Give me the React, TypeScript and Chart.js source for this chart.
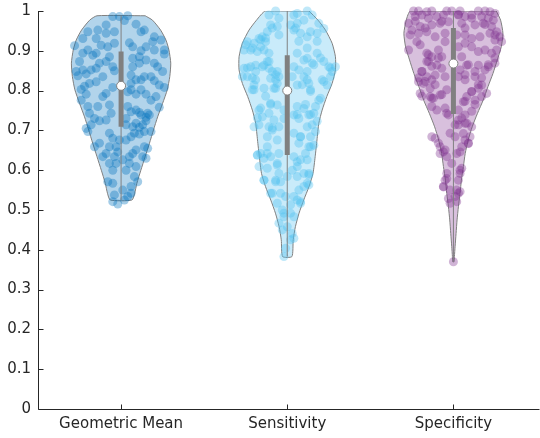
import React, { useEffect, useRef } from "react";
import { Chart, registerables } from "chart.js";

Chart.register(...registerables);

const categories = ["Geometric Mean", "Sensitivity", "Specificity"];
const yTickValues = [0, 0.1, 0.2, 0.3, 0.4, 0.5, 0.6, 0.7, 0.8, 0.9, 1];
const seriesColors = [
  [0, 114, 189],
  [77, 190, 238],
  [126, 47, 142],
];

// Violin outlines: value levels (top -> bottom) and half-widths (in category units)
const gmProfileY = [0.988, 0.977, 0.952, 0.927, 0.902, 0.869, 0.835, 0.802, 0.768, 0.734, 0.701, 0.668, 0.634, 0.6, 0.567, 0.542, 0.525];
const gmProfileHW = [0.145, 0.189, 0.238, 0.27, 0.288, 0.299, 0.293, 0.278, 0.25, 0.22, 0.195, 0.171, 0.145, 0.119, 0.095, 0.082, 0.065];
const seProfileY = [1.0, 0.977, 0.952, 0.919, 0.885, 0.852, 0.818, 0.785, 0.751, 0.718, 0.676, 0.634, 0.592, 0.559, 0.525, 0.492, 0.458, 0.425, 0.383];
const seProfileHW = [0.131, 0.185, 0.23, 0.27, 0.29, 0.29, 0.27, 0.238, 0.21, 0.19, 0.179, 0.168, 0.155, 0.131, 0.099, 0.071, 0.049, 0.036, 0.028];
const spProfileY = [1.0, 0.977, 0.944, 0.91, 0.877, 0.843, 0.81, 0.776, 0.743, 0.709, 0.676, 0.642, 0.609, 0.575, 0.542, 0.508, 0.475, 0.441, 0.408, 0.383, 0.37];
const spProfileHW = [0.258, 0.284, 0.298, 0.288, 0.264, 0.238, 0.208, 0.179, 0.145, 0.113, 0.089, 0.071, 0.06, 0.048, 0.04, 0.03, 0.022, 0.016, 0.01, 0.006, 0.004];

// Box statistics
const boxMin = [0.525, 0.383, 0.37];
const boxMax = [0.988, 1.0, 1.0];
const boxQ1 = [0.709, 0.638, 0.741];
const boxQ3 = [0.898, 0.889, 0.957];
const boxMedian = [0.812, 0.8, 0.868];

// Jittered observations
const gmJitter = [-0.05, -0.01, 0.04, 0.02, -0.09, -0.14, -0.2, -0.23, -0.28, -0.15, -0.09, -0.04, 0.09, 0.12, 0.14, 0.2, 0.19, 0.24, 0.26, 0.26, 0.2, 0.15, 0.12, 0.07, 0.05, -0.04, -0.08, -0.12, -0.15, -0.17, -0.2, -0.23, -0.25, -0.27, -0.26, -0.23, -0.21, -0.18, -0.15, -0.13, -0.09, -0.07, -0.05, -0.04, -0.11, -0.15, -0.19, -0.22, -0.24, -0.21, -0.24, -0.2, -0.14, -0.19, -0.16, -0.13, -0.09, -0.06, -0.07, -0.11, -0.09, -0.05, 0.06, 0.09, 0.12, 0.14, 0.18, 0.2, 0.23, 0.26, 0.25, 0.22, 0.2, 0.15, 0.11, 0.07, 0.07, 0.11, 0.06, 0.04, 0.06, 0.09, 0.12, 0.15, 0.18, 0.21, 0.23, 0.16, 0.15, 0.12, 0.11, 0.09, 0.06, 0.04, 0.03, 0.03, 0.07, 0.09, 0.11, 0.13, 0.15, 0.17, 0.18, 0.14, 0.11, 0.08, 0.06, 0.03, -0.01, -0.05, -0.07, -0.07, -0.09, -0.11, -0.13, -0.16, -0.2, -0.21, -0.18, -0.03, -0.02, -0.04, -0.03, -0.07, -0.05, 0.01, 0.05, 0.07, 0.09, 0.14, 0.16, 0.15, 0.13, 0.09, 0.05, 0.03, 0.08, 0.1, 0.06, 0.06, 0.01, -0.05, -0.08, -0.04, -0.05, 0.02, 0.04, -0.02];
const gmValues = [0.986, 0.986, 0.988, 0.976, 0.965, 0.952, 0.948, 0.931, 0.913, 0.931, 0.944, 0.948, 0.967, 0.948, 0.952, 0.935, 0.923, 0.927, 0.902, 0.892, 0.902, 0.91, 0.9, 0.91, 0.92, 0.919, 0.91, 0.914, 0.894, 0.889, 0.902, 0.894, 0.873, 0.848, 0.837, 0.852, 0.842, 0.852, 0.856, 0.869, 0.873, 0.885, 0.86, 0.85, 0.835, 0.822, 0.818, 0.811, 0.803, 0.791, 0.776, 0.76, 0.76, 0.743, 0.73, 0.724, 0.726, 0.743, 0.764, 0.785, 0.793, 0.808, 0.818, 0.827, 0.827, 0.835, 0.835, 0.825, 0.814, 0.808, 0.848, 0.86, 0.869, 0.877, 0.869, 0.86, 0.881, 0.885, 0.839, 0.797, 0.802, 0.791, 0.802, 0.791, 0.776, 0.785, 0.758, 0.743, 0.733, 0.739, 0.745, 0.751, 0.747, 0.76, 0.73, 0.714, 0.709, 0.718, 0.708, 0.714, 0.724, 0.739, 0.697, 0.697, 0.691, 0.693, 0.684, 0.676, 0.676, 0.68, 0.693, 0.659, 0.642, 0.634, 0.668, 0.659, 0.697, 0.705, 0.714, 0.659, 0.646, 0.634, 0.617, 0.617, 0.6, 0.626, 0.634, 0.642, 0.651, 0.659, 0.655, 0.63, 0.634, 0.609, 0.617, 0.6, 0.584, 0.571, 0.559, 0.542, 0.55, 0.567, 0.571, 0.538, 0.521, 0.525, 0.534, 0.515];

const seJitter = [-0.07, -0.11, -0.05, 0.04, 0.06, 0.12, 0.15, 0.1, 0.06, 0.02, 0.19, 0.22, 0.18, 0.14, 0.12, 0.08, 0.04, -0.06, -0.1, -0.12, -0.15, -0.17, -0.13, -0.16, -0.2, -0.24, -0.22, -0.26, -0.18, -0.14, -0.11, -0.12, -0.14, -0.11, -0.09, -0.06, -0.05, -0.07, -0.1, -0.15, -0.19, -0.22, -0.26, -0.27, -0.24, -0.19, -0.2, -0.21, -0.14, -0.08, -0.06, 0.06, 0.1, 0.12, 0.13, 0.14, 0.1, 0.06, 0.04, 0.07, 0.03, 0.15, 0.12, 0.18, 0.22, 0.25, 0.27, 0.29, 0.26, 0.21, 0.24, 0.19, 0.17, 0.16, 0.13, 0.1, 0.06, 0.04, 0.07, 0.12, 0.15, 0.17, 0.14, 0.13, 0.16, 0.11, 0.12, 0.08, 0.06, 0.03, 0.04, 0.07, 0.08, 0.04, -0.1, -0.06, -0.11, -0.08, -0.05, -0.09, -0.12, -0.15, -0.17, -0.2, -0.11, -0.02, -0.02, -0.06, -0.12, -0.16, -0.18, -0.14, -0.1, -0.05, -0.06, -0.12, -0.17, -0.14, -0.07, -0.04, -0.05, 0.0, 0.06, 0.1, 0.13, 0.12, 0.1, 0.07, 0.04, 0.06, 0.08, 0.02, -0.01, -0.04, -0.1, -0.06, -0.03, -0.02, 0.02, 0.04, 0.0, -0.03, 0.03, 0.02, -0.01, -0.02,
  -0.16, -0.13, -0.21, -0.25, -0.24, -0.19, -0.21, -0.2, -0.13, -0.16, -0.1, -0.07, -0.07, -0.11, -0.05, -0.09, 0.05, 0.07, 0.12, 0.18, 0.2, 0.16, 0.12, 0.09, 0.14, 0.2, 0.22, 0.26, 0.11, 0.06, 0.14, 0.18, -0.17, -0.09, -0.18,
  -0.18, -0.12, -0.06, -0.14, -0.07, -0.09, 0.13, 0.14, 0.08, 0.06, 0.08, -0.02, -0.05, 0.04, 0.13];
const seValues = [1.0, 0.99, 0.982, 0.99, 0.994, 1.0, 0.99, 0.977, 0.969, 0.965, 0.969, 0.956, 0.944, 0.948, 0.935, 0.944, 0.952, 0.961, 0.965, 0.948, 0.935, 0.931, 0.923, 0.91, 0.919, 0.923, 0.902, 0.902, 0.898, 0.902, 0.894, 0.873, 0.864, 0.856, 0.848, 0.848, 0.835, 0.827, 0.831, 0.86, 0.864, 0.86, 0.856, 0.835, 0.835, 0.827, 0.814, 0.802, 0.806, 0.806, 0.818, 0.814, 0.835, 0.827, 0.818, 0.802, 0.877, 0.894, 0.86, 0.852, 0.835, 0.869, 0.881, 0.894, 0.873, 0.86, 0.848, 0.86, 0.835, 0.827, 0.814, 0.776, 0.76, 0.743, 0.739, 0.755, 0.76, 0.739, 0.73, 0.709, 0.714, 0.697, 0.684, 0.659, 0.663, 0.642, 0.626, 0.626, 0.609, 0.6, 0.634, 0.668, 0.684, 0.693, 0.768, 0.764, 0.743, 0.726, 0.709, 0.701, 0.684, 0.734, 0.751, 0.709, 0.709, 0.751, 0.73, 0.676, 0.659, 0.642, 0.638, 0.63, 0.634, 0.642, 0.617, 0.605, 0.609, 0.575, 0.575, 0.571, 0.592, 0.584, 0.584, 0.592, 0.588, 0.567, 0.559, 0.55, 0.534, 0.525, 0.517, 0.513, 0.534, 0.542, 0.542, 0.517, 0.5, 0.483, 0.492, 0.483, 0.458, 0.45, 0.441, 0.425, 0.404, 0.383,
  0.928, 0.932, 0.907, 0.915, 0.857, 0.848, 0.832, 0.802, 0.786, 0.756, 0.765, 0.806, 0.84, 0.873, 0.94, 0.957, 0.957, 0.924, 0.907, 0.924, 0.882, 0.865, 0.848, 0.815, 0.798, 0.781, 0.823, 0.857, 0.765, 0.74, 0.74, 0.723, 0.714, 0.706, 0.731,
  0.638, 0.642, 0.613, 0.575, 0.571, 0.542, 0.592, 0.659, 0.684, 0.621, 0.521, 0.492, 0.467, 0.429, 0.563];

const spJitter = [-0.24, -0.21, -0.16, -0.13, -0.04, -0.01, 0.04, 0.15, 0.19, 0.22, 0.25, -0.23, -0.19, -0.15, -0.1, -0.06, 0.03, 0.07, 0.11, 0.17, 0.21, 0.24, -0.27, -0.25, -0.2, -0.13, -0.08, -0.03, 0.05, 0.13, 0.18, 0.23, 0.26, 0.28, 0.29, -0.26, -0.21, -0.16, -0.11, -0.05, 0.02, 0.07, 0.11, 0.16, 0.22, 0.25, -0.27, -0.22, -0.2, -0.16, -0.15, -0.13, -0.09, -0.05, -0.07, -0.1, -0.07, 0.03, 0.07, 0.11, 0.15, 0.19, 0.23, 0.26, 0.25, 0.21, 0.19, 0.15, 0.08, 0.05, 0.04, -0.19, -0.16, -0.21, -0.18, -0.13, -0.11, -0.05, 0.03, 0.07, 0.13, 0.17, 0.15, 0.11, 0.08, 0.06, 0.13, 0.17, 0.2, -0.2, -0.14, -0.12, -0.08, -0.04, -0.13, -0.1, -0.04, 0.03, 0.07, 0.03, 0.01, 0.07, 0.11, 0.1, 0.07, 0.05, 0.09, -0.13, -0.09, -0.08, -0.05, -0.08, -0.04, 0.02, 0.01, -0.02, -0.01, 0.05, 0.04, -0.04, -0.05, -0.06, -0.02, 0.02, 0.03, 0.01, -0.03, -0.02, 0.0,
  -0.15, -0.16, -0.13, -0.09, -0.19, -0.21, -0.17, -0.14, -0.11, -0.07, -0.19, -0.13, 0.07, 0.11, 0.15, 0.17, 0.13, 0.21, 0.25, 0.09, 0.07, 0.05, 0.08, 0.03, -0.03, -0.05, 0.11, 0.13, -0.23, -0.17, -0.07, 0.11, 0.19, 0.25, 0.03, 0.07,
  -0.11, -0.06, 0.04, 0.09, 0.06, -0.04, 0.03, 0.04, 0.04, 0.02, -0.06];
const spValues = [1.0, 1.0, 0.998, 1.0, 1.0, 1.0, 1.0, 1.0, 1.0, 0.998, 0.994, 0.986, 0.99, 0.982, 0.986, 0.99, 0.99, 0.986, 0.99, 0.986, 0.982, 0.977, 0.969, 0.952, 0.961, 0.965, 0.969, 0.973, 0.969, 0.965, 0.969, 0.961, 0.948, 0.935, 0.923, 0.94, 0.944, 0.948, 0.935, 0.944, 0.94, 0.94, 0.931, 0.935, 0.944, 0.927, 0.902, 0.923, 0.915, 0.894, 0.873, 0.885, 0.902, 0.923, 0.885, 0.864, 0.856, 0.91, 0.919, 0.91, 0.898, 0.902, 0.894, 0.902, 0.869, 0.86, 0.852, 0.864, 0.864, 0.885, 0.852, 0.848, 0.835, 0.822, 0.818, 0.827, 0.839, 0.835, 0.835, 0.827, 0.835, 0.814, 0.806, 0.797, 0.785, 0.772, 0.776, 0.785, 0.793, 0.793, 0.785, 0.781, 0.789, 0.802, 0.76, 0.751, 0.743, 0.751, 0.739, 0.726, 0.714, 0.718, 0.709, 0.684, 0.676, 0.659, 0.668, 0.684, 0.668, 0.659, 0.651, 0.642, 0.634, 0.642, 0.684, 0.693, 0.617, 0.605, 0.592, 0.592, 0.575, 0.559, 0.55, 0.55, 0.542, 0.534, 0.529, 0.517, 0.37,
  0.89, 0.873, 0.861, 0.882, 0.848, 0.832, 0.823, 0.806, 0.815, 0.79, 0.786, 0.781, 0.773, 0.798, 0.815, 0.832, 0.848, 0.865, 0.882, 0.865, 0.84, 0.731, 0.718, 0.714, 0.739, 0.756, 0.748, 0.765, 0.974, 0.957, 0.974, 0.982, 0.966, 0.94, 0.991, 0.957,
  0.68, 0.646, 0.646, 0.667, 0.692, 0.579, 0.575, 0.6, 0.546, 0.521, 0.558];

const jitters = [gmJitter, seJitter, spJitter];
const values = [gmValues, seValues, spValues];
const profileYs = [gmProfileY, seProfileY, spProfileY];
const profileHWs = [gmProfileHW, seProfileHW, spProfileHW];

const GRAY = "rgb(128,128,128)";
const AXIS = "#262626";
const FONT = "'DejaVu Sans', sans-serif";

const rgba = (c: number[], a: number) => `rgba(${c[0]},${c[1]},${c[2]},${a})`;

const axesPlugin = {
  id: "matlabAxes",
  afterDatasetsDraw(chart: any) {
    const { ctx, chartArea, scales } = chart;
    const xs = scales.x;
    const ys = scales.y;
    const left = Math.round(chartArea.left) + 0.5;
    const bottom = Math.round(chartArea.bottom) + 0.5;
    ctx.save();
    ctx.strokeStyle = AXIS;
    ctx.lineWidth = 1;
    ctx.beginPath();
    ctx.moveTo(left, chartArea.top);
    ctx.lineTo(left, bottom);
    ctx.lineTo(chartArea.right + 5, bottom);
    for (const v of yTickValues) {
      const py = Math.round(ys.getPixelForValue(v)) + 0.5;
      ctx.moveTo(left, py);
      ctx.lineTo(left + 5, py);
    }
    categories.forEach((_, i) => {
      const px = Math.round(xs.getPixelForValue(i + 1)) + 0.5;
      ctx.moveTo(px, bottom);
      ctx.lineTo(px, bottom - 5);
    });
    ctx.stroke();
    ctx.restore();
  },
};

export default function App() {
  const canvasRef = useRef<HTMLCanvasElement | null>(null);

  useEffect(() => {
    const canvas = canvasRef.current;
    if (!canvas) return;
    const datasets: any[] = [];

    categories.forEach((_, i) => {
      const c = i + 1;
      const py = profileYs[i];
      const hw = profileHWs[i];
      const right = py.map((y, k) => ({ x: c + hw[k], y }));
      const leftSide = py.map((y, k) => ({ x: c - hw[k], y })).reverse();
      const outline = [...right, ...leftSide, right[0]];
      datasets.push({
        data: outline,
        showLine: true,
        fill: "shape",
        backgroundColor: rgba(seriesColors[i], 0.3),
        borderColor: GRAY,
        borderWidth: 1,
        pointRadius: 0,
        tension: 0.2,
        order: 5,
      });
      datasets.push({
        data: values[i].map((v, k) => ({ x: c + jitters[i][k], y: v })),
        showLine: false,
        pointRadius: 4.5,
        pointBackgroundColor: rgba(seriesColors[i], 0.36),
        pointBorderWidth: 0,
        pointBorderColor: "rgba(0,0,0,0)",
        clip: false,
        order: 4,
      });
      datasets.push({
        data: [
          { x: c, y: boxMin[i] },
          { x: c, y: boxMax[i] },
        ],
        showLine: true,
        borderColor: GRAY,
        borderWidth: 1,
        pointRadius: 0,
        clip: false,
        order: 3,
      });
      datasets.push({
        data: [
          { x: c, y: boxQ1[i] },
          { x: c, y: boxQ3[i] },
        ],
        showLine: true,
        borderColor: GRAY,
        borderWidth: 5,
        borderCapStyle: "butt",
        pointRadius: 0,
        order: 2,
      });
      datasets.push({
        data: [{ x: c, y: boxMedian[i] }],
        showLine: false,
        pointRadius: 4.5,
        pointBackgroundColor: "#ffffff",
        pointBorderColor: GRAY,
        pointBorderWidth: 1,
        order: 1,
      });
    });

    const chart = new Chart(canvas, {
      type: "scatter",
      data: { datasets },
      plugins: [axesPlugin],
      options: {
        animation: false,
        responsive: false,
        events: [],
        layout: { padding: { top: 11, right: 0, left: 0, bottom: 0 } },
        plugins: { legend: { display: false }, tooltip: { enabled: false } },
        scales: {
          x: {
            type: "linear",
            min: 0.5,
            max: 3.488,
            grid: { display: false, drawTicks: false },
            border: { display: false },
            afterFit: (s: any) => {
              s.height = 29;
              s.paddingLeft = 0;
              s.paddingRight = 0;
            },
            afterBuildTicks: (s: any) => {
              s.ticks = categories.map((_, i) => ({ value: i + 1 }));
            },
            ticks: {
              autoSkip: false,
              maxRotation: 0,
              padding: 6,
              color: AXIS,
              font: { family: FONT, size: 15 },
              callback: (v: any) => categories[Math.round(v) - 1] ?? "",
            },
          },
          y: {
            type: "linear",
            min: 0,
            max: 1,
            grid: { display: false, drawTicks: false },
            border: { display: false },
            afterFit: (s: any) => {
              s.width = 38;
              s.paddingTop = 0;
              s.paddingBottom = 0;
            },
            afterBuildTicks: (s: any) => {
              s.ticks = yTickValues.map((v) => ({ value: v }));
            },
            ticks: {
              padding: 7,
              color: AXIS,
              font: { family: FONT, size: 15 },
              callback: (v: any) => String(v),
            },
          },
        },
      },
    });
    return () => chart.destroy();
  }, []);

  return (
    <div style={{ position: "fixed", left: 0, top: 0, width: 540, height: 438, background: "#fff" }}>
      <canvas ref={canvasRef} width={540} height={438} />
    </div>
  );
}
